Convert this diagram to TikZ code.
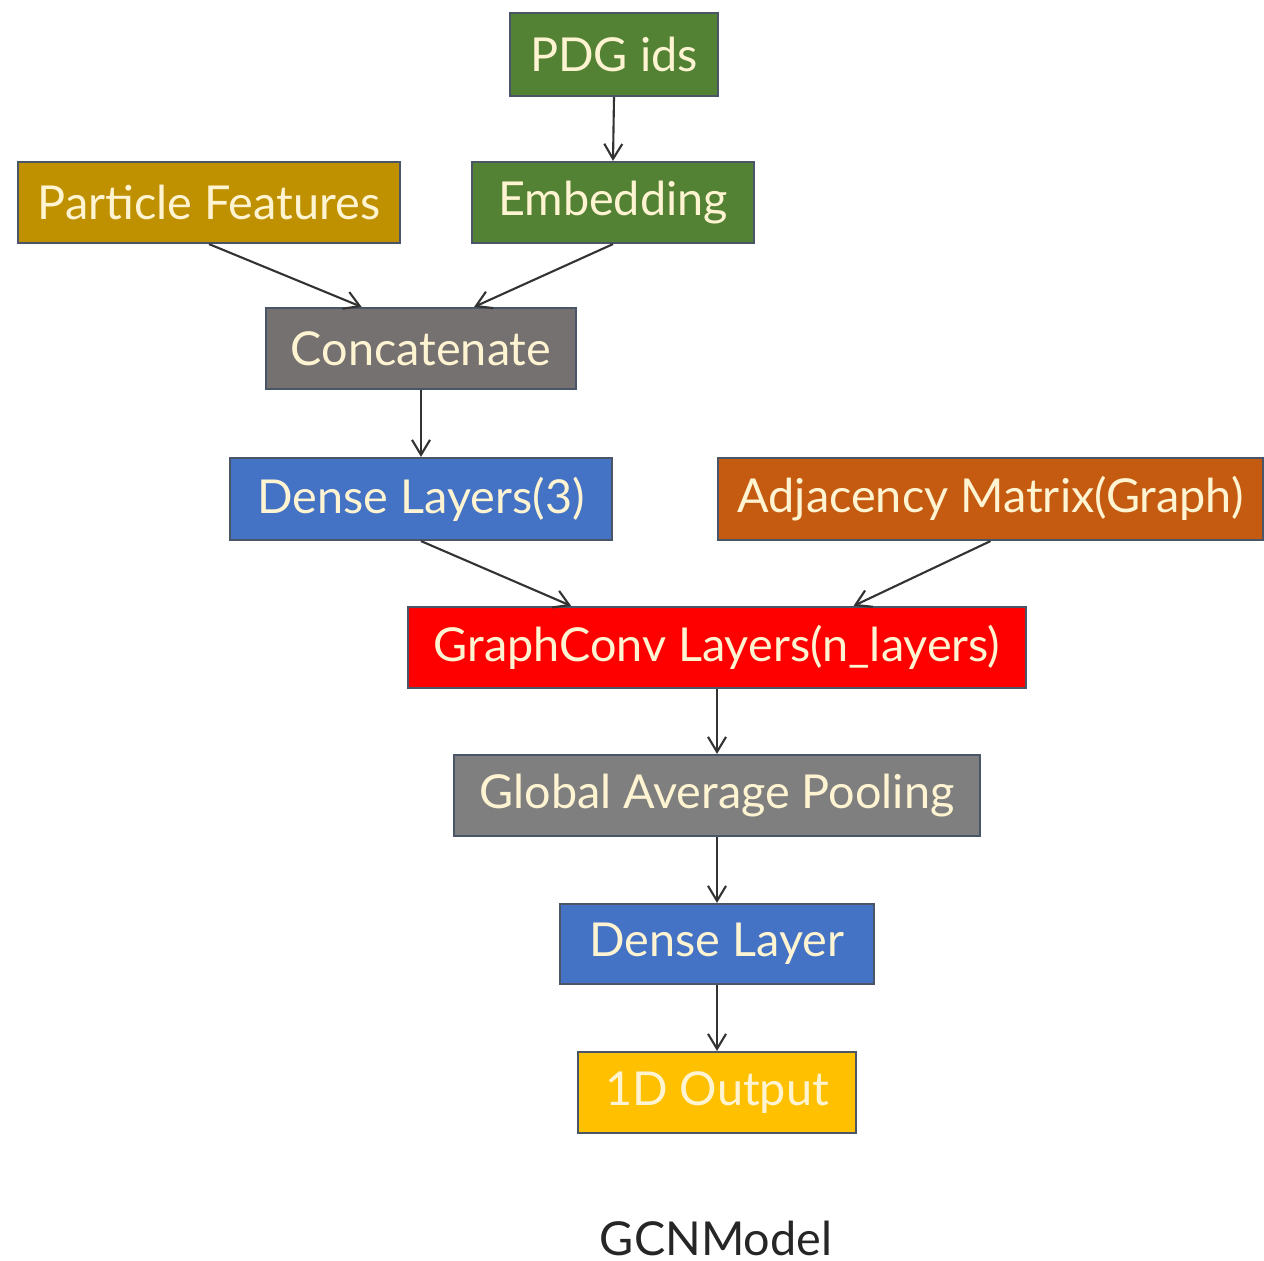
\documentclass[tikz,border=0pt]{standalone}
\usepackage{fontspec}
\setmainfont{Lato}
\usetikzlibrary{arrows.meta,calc}
\definecolor{cgreen}{HTML}{548235}
\definecolor{cgold}{HTML}{BF9000}
\definecolor{cgrayA}{HTML}{767171}
\definecolor{cblue}{HTML}{4472C4}
\definecolor{corange}{HTML}{C55A11}
\definecolor{cred}{HTML}{FF0000}
\definecolor{cgrayB}{HTML}{7F7F7F}
\definecolor{cyellow}{HTML}{FFC000}
\definecolor{ctext}{HTML}{FFF4D2}
\definecolor{cborder}{HTML}{4A5568}
\definecolor{carrow}{HTML}{333333}
\begin{document}
\begin{tikzpicture}[x=0.01cm,y=-0.01cm,
  blk/.style={draw=cborder,line width=0.6pt,inner sep=0pt,text=ctext,
    font=\fontsize{13.3}{16}\selectfont,anchor=center},
  conn/.style={draw=carrow,line width=0.6pt,-{Straight Barb[length=1.5mm,width=1.8mm]}}]
\useasboundingbox[fill=white] (0,0) rectangle (1264,1261);
\node[blk,fill=cgreen,minimum width=2.08cm,minimum height=0.83cm] (pdg) at (614,54.5) {PDG ids};
\node[blk,fill=cgold,minimum width=3.82cm,minimum height=0.81cm] (pf) at (209,202.5) {Particle Features};
\node[blk,fill=cgreen,minimum width=2.82cm,minimum height=0.81cm] (emb) at (613,202.5) {Embedding};
\node[blk,fill=cgrayA,minimum width=3.10cm,minimum height=0.81cm] (cc) at (421,348.5) {Concatenate};
\node[blk,fill=cblue,minimum width=3.82cm,minimum height=0.82cm] (d3) at (421,499) {Dense Layers(3)};
\node[blk,fill=corange,minimum width=5.45cm,minimum height=0.82cm] (adj) at (990.5,499) {Adjacency Matrix(Graph)};
\node[blk,fill=cred,minimum width=6.18cm,minimum height=0.81cm] (gc) at (717,647.5) {GraphConv Layers(n\_layers)};
\node[blk,fill=cgrayB,minimum width=5.26cm,minimum height=0.81cm] (gap) at (717,795.5) {Global Average Pooling};
\node[blk,fill=cblue,minimum width=3.14cm,minimum height=0.80cm] (dl) at (717,944) {Dense Layer};
\node[blk,fill=cyellow,minimum width=2.78cm,minimum height=0.81cm] (out) at (717,1092.5) {1D Output};
\node[text=black!85,font=\fontsize{13.3}{16}\selectfont] (title) at (716,1238) {GCNModel};
\draw[conn] (pdg.south) -- (emb.north);
\draw[conn] (pf.south) -- ($(cc.north west)!0.31!(cc.north east)$);
\draw[conn] (emb.south) -- ($(cc.north west)!0.67!(cc.north east)$);
\draw[conn] (cc.south) -- (d3.north);
\draw[conn] (d3.south) -- ($(gc.north west)!0.265!(gc.north east)$);
\draw[conn] (adj.south) -- ($(gc.north west)!0.72!(gc.north east)$);
\draw[conn] (gc.south) -- (gap.north);
\draw[conn] (gap.south) -- (dl.north);
\draw[conn] (dl.south) -- (out.north);
\end{tikzpicture}
\end{document}
